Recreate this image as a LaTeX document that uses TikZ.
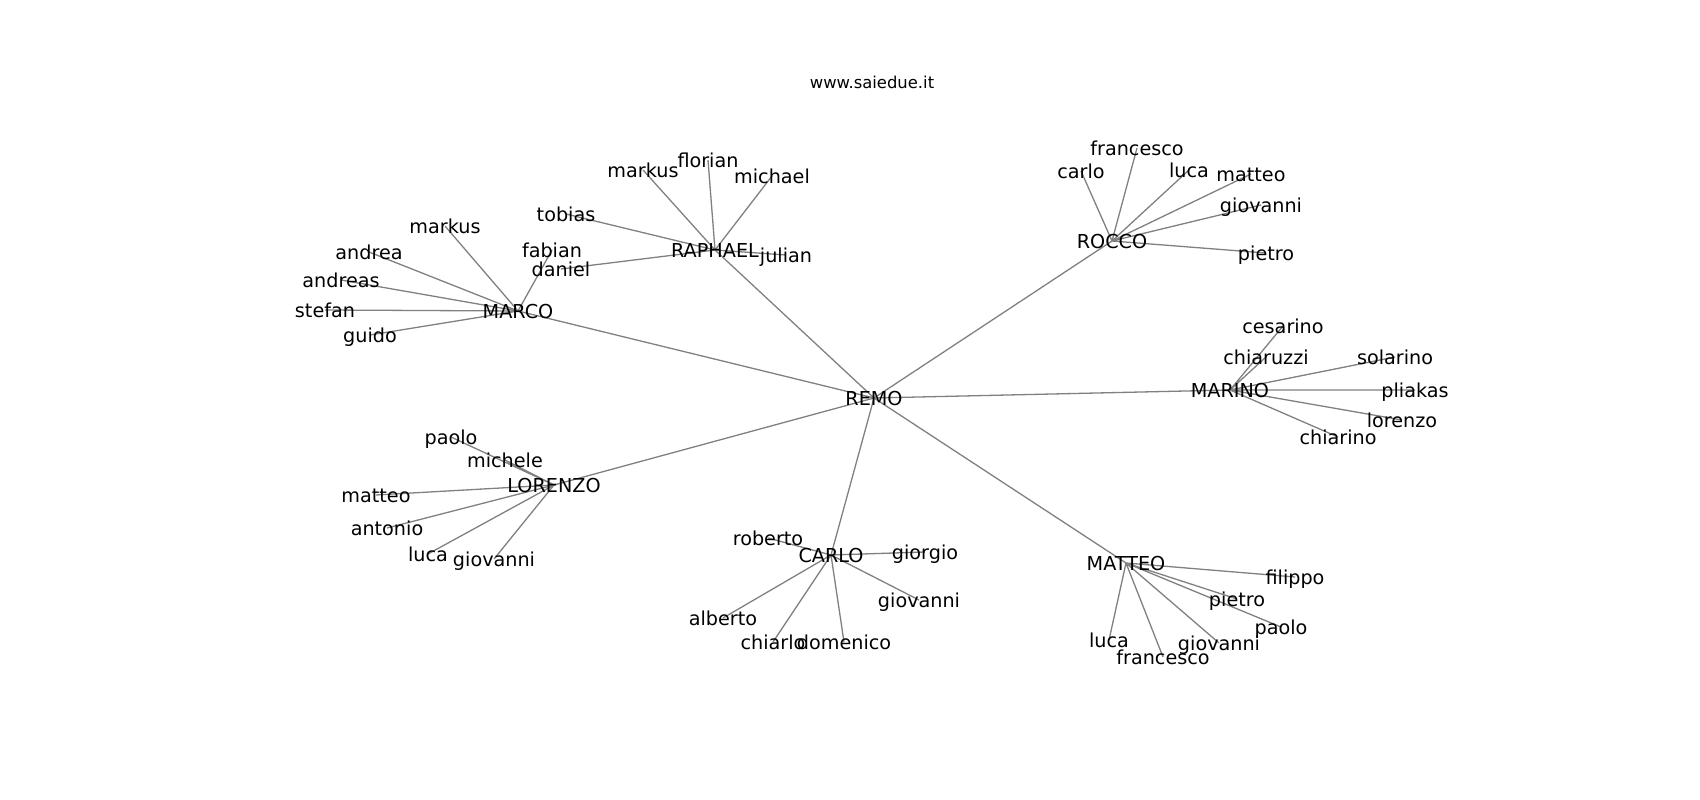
\documentclass[tikz,border=0pt]{standalone}
\usepackage{fontspec}
\setmainfont{DejaVu Sans}
\usetikzlibrary{backgrounds}

\begin{document}
\begin{tikzpicture}[x=1pt, y=-1pt]
        \tikzstyle{person} = [inner sep=0pt, text height=19pt, text depth=4pt, font=\fontsize{19.2}{23}\selectfont]
        \tikzstyle{link} = [draw=gray, line width=1.3pt]
        \useasboundingbox (0,0) rectangle (1700,800);

        \node (title) [font=\fontsize{16.4}{19}\selectfont] at (872,82) {www.saiedue.it};

        \node (remo) [person] at (874,398) {REMO};

        % MARCO
        \node (marco) [person] at (518,311) {MARCO};
        \node (markusm) [person] at (445,226) {markus};
        \node (andrea) [person] at (369,252) {andrea};
        \node (andreas) [person] at (341,280) {andreas};
        \node (stefan) [person] at (325,310) {stefan};
        \node (guido) [person] at (370,335) {guido};
        \node (fabian) [person] at (552,250) {fabian};

        % RAPHAEL
        \node (raphael) [person] at (715,250) {RAPHAEL};
        \node (markusr) [person] at (643,170) {markus};
        \node (florian) [person] at (708,160) {florian};
        \node (michael) [person] at (772,176) {michael};
        \node (tobias) [person] at (566,214) {tobias};
        \node (daniel) [person] at (561,269) {daniel};
        \node (julian) [person] at (786,255) {julian};

        % ROCCO
        \node (rocco) [person] at (1112,241) {ROCCO};
        \node (carlor) [person] at (1081,171) {carlo};
        \node (francescor) [person] at (1137,148) {francesco};
        \node (lucar) [person] at (1189,170) {luca};
        \node (matteor) [person] at (1251,174) {matteo};
        \node (giovannir) [person] at (1261,205) {giovanni};
        \node (pietror) [person] at (1266,253) {pietro};

        % MARINO
        \node (marino) [person] at (1230,390) {MARINO};
        \node (cesarino) [person] at (1283,326) {cesarino};
        \node (chiaruzzi) [person] at (1266,357) {chiaruzzi};
        \node (solarino) [person] at (1395,357) {solarino};
        \node (pliakas) [person] at (1415,390) {pliakas};
        \node (lorenzo) [person] at (1402,420) {lorenzo};
        \node (chiarino) [person] at (1338,437) {chiarino};

        % LORENZO
        \node (lorenzob) [person] at (554,485) {LORENZO};
        \node (paolol) [person] at (451,437) {paolo};
        \node (michele) [person] at (505,460) {michele};
        \node (matteol) [person] at (376,495) {matteo};
        \node (antonio) [person] at (387,528) {antonio};
        \node (lucal) [person] at (428,554) {luca};
        \node (giovannil) [person] at (494,559) {giovanni};

        % CARLO
        \node (carlob) [person] at (831,555) {CARLO};
        \node (roberto) [person] at (768,538) {roberto};
        \node (giorgio) [person] at (925,552) {giorgio};
        \node (giovannic) [person] at (919,600) {giovanni};
        \node (alberto) [person] at (723,618) {alberto};
        \node (chiarlo) [person] at (773,642) {chiarlo};
        \node (domenico) [person] at (844,642) {domenico};

        % MATTEO
        \node (matteob) [person] at (1126,563) {MATTEO};
        \node (filippo) [person] at (1295,577) {filippo};
        \node (pietrom) [person] at (1237,599) {pietro};
        \node (paolom) [person] at (1281,627) {paolo};
        \node (lucam) [person] at (1109,640) {luca};
        \node (giovannim) [person] at (1219,643) {giovanni};
        \node (francescom) [person] at (1163,657) {francesco};

        \begin{scope}[on background layer]
        \draw [link] (remo.center) -- (marco.center);
        \draw [link] (remo.center) -- (raphael.center);
        \draw [link] (remo.center) -- (rocco.center);
        \draw [link] (remo.center) -- (marino.center);
        \draw [link] (remo.center) -- (lorenzob.center);
        \draw [link] (remo.center) -- (carlob.center);
        \draw [link] (remo.center) -- (matteob.center);

        \draw [link] (marco.center) -- (markusm.center) (marco.center) -- (andrea.center) (marco.center) -- (andreas.center);
        \draw [link] (marco.center) -- (stefan.center) (marco.center) -- (guido.center) (marco.center) -- (fabian.center);

        \draw [link] (raphael.center) -- (markusr.center) (raphael.center) -- (florian.center) (raphael.center) -- (michael.center);
        \draw [link] (raphael.center) -- (tobias.center) (raphael.center) -- (daniel.center) (raphael.center) -- (julian.center);

        \draw [link] (rocco.center) -- (carlor.center) (rocco.center) -- (francescor.center) (rocco.center) -- (lucar.center);
        \draw [link] (rocco.center) -- (matteor.center) (rocco.center) -- (giovannir.center) (rocco.center) -- (pietror.center);

        \draw [link] (marino.center) -- (cesarino.center) (marino.center) -- (chiaruzzi.center) (marino.center) -- (solarino.center);
        \draw [link] (marino.center) -- (pliakas.center) (marino.center) -- (lorenzo.center) (marino.center) -- (chiarino.center);

        \draw [link] (lorenzob.center) -- (paolol.center) (lorenzob.center) -- (michele.center) (lorenzob.center) -- (matteol.center);
        \draw [link] (lorenzob.center) -- (antonio.center) (lorenzob.center) -- (lucal.center) (lorenzob.center) -- (giovannil.center);

        \draw [link] (carlob.center) -- (roberto.center) (carlob.center) -- (giorgio.center) (carlob.center) -- (giovannic.center);
        \draw [link] (carlob.center) -- (alberto.center) (carlob.center) -- (chiarlo.center) (carlob.center) -- (domenico.center);

        \draw [link] (matteob.center) -- (filippo.center) (matteob.center) -- (pietrom.center) (matteob.center) -- (paolom.center);
        \draw [link] (matteob.center) -- (lucam.center) (matteob.center) -- (giovannim.center) (matteob.center) -- (francescom.center);
        \end{scope}
    \end{tikzpicture}
\end{document}
